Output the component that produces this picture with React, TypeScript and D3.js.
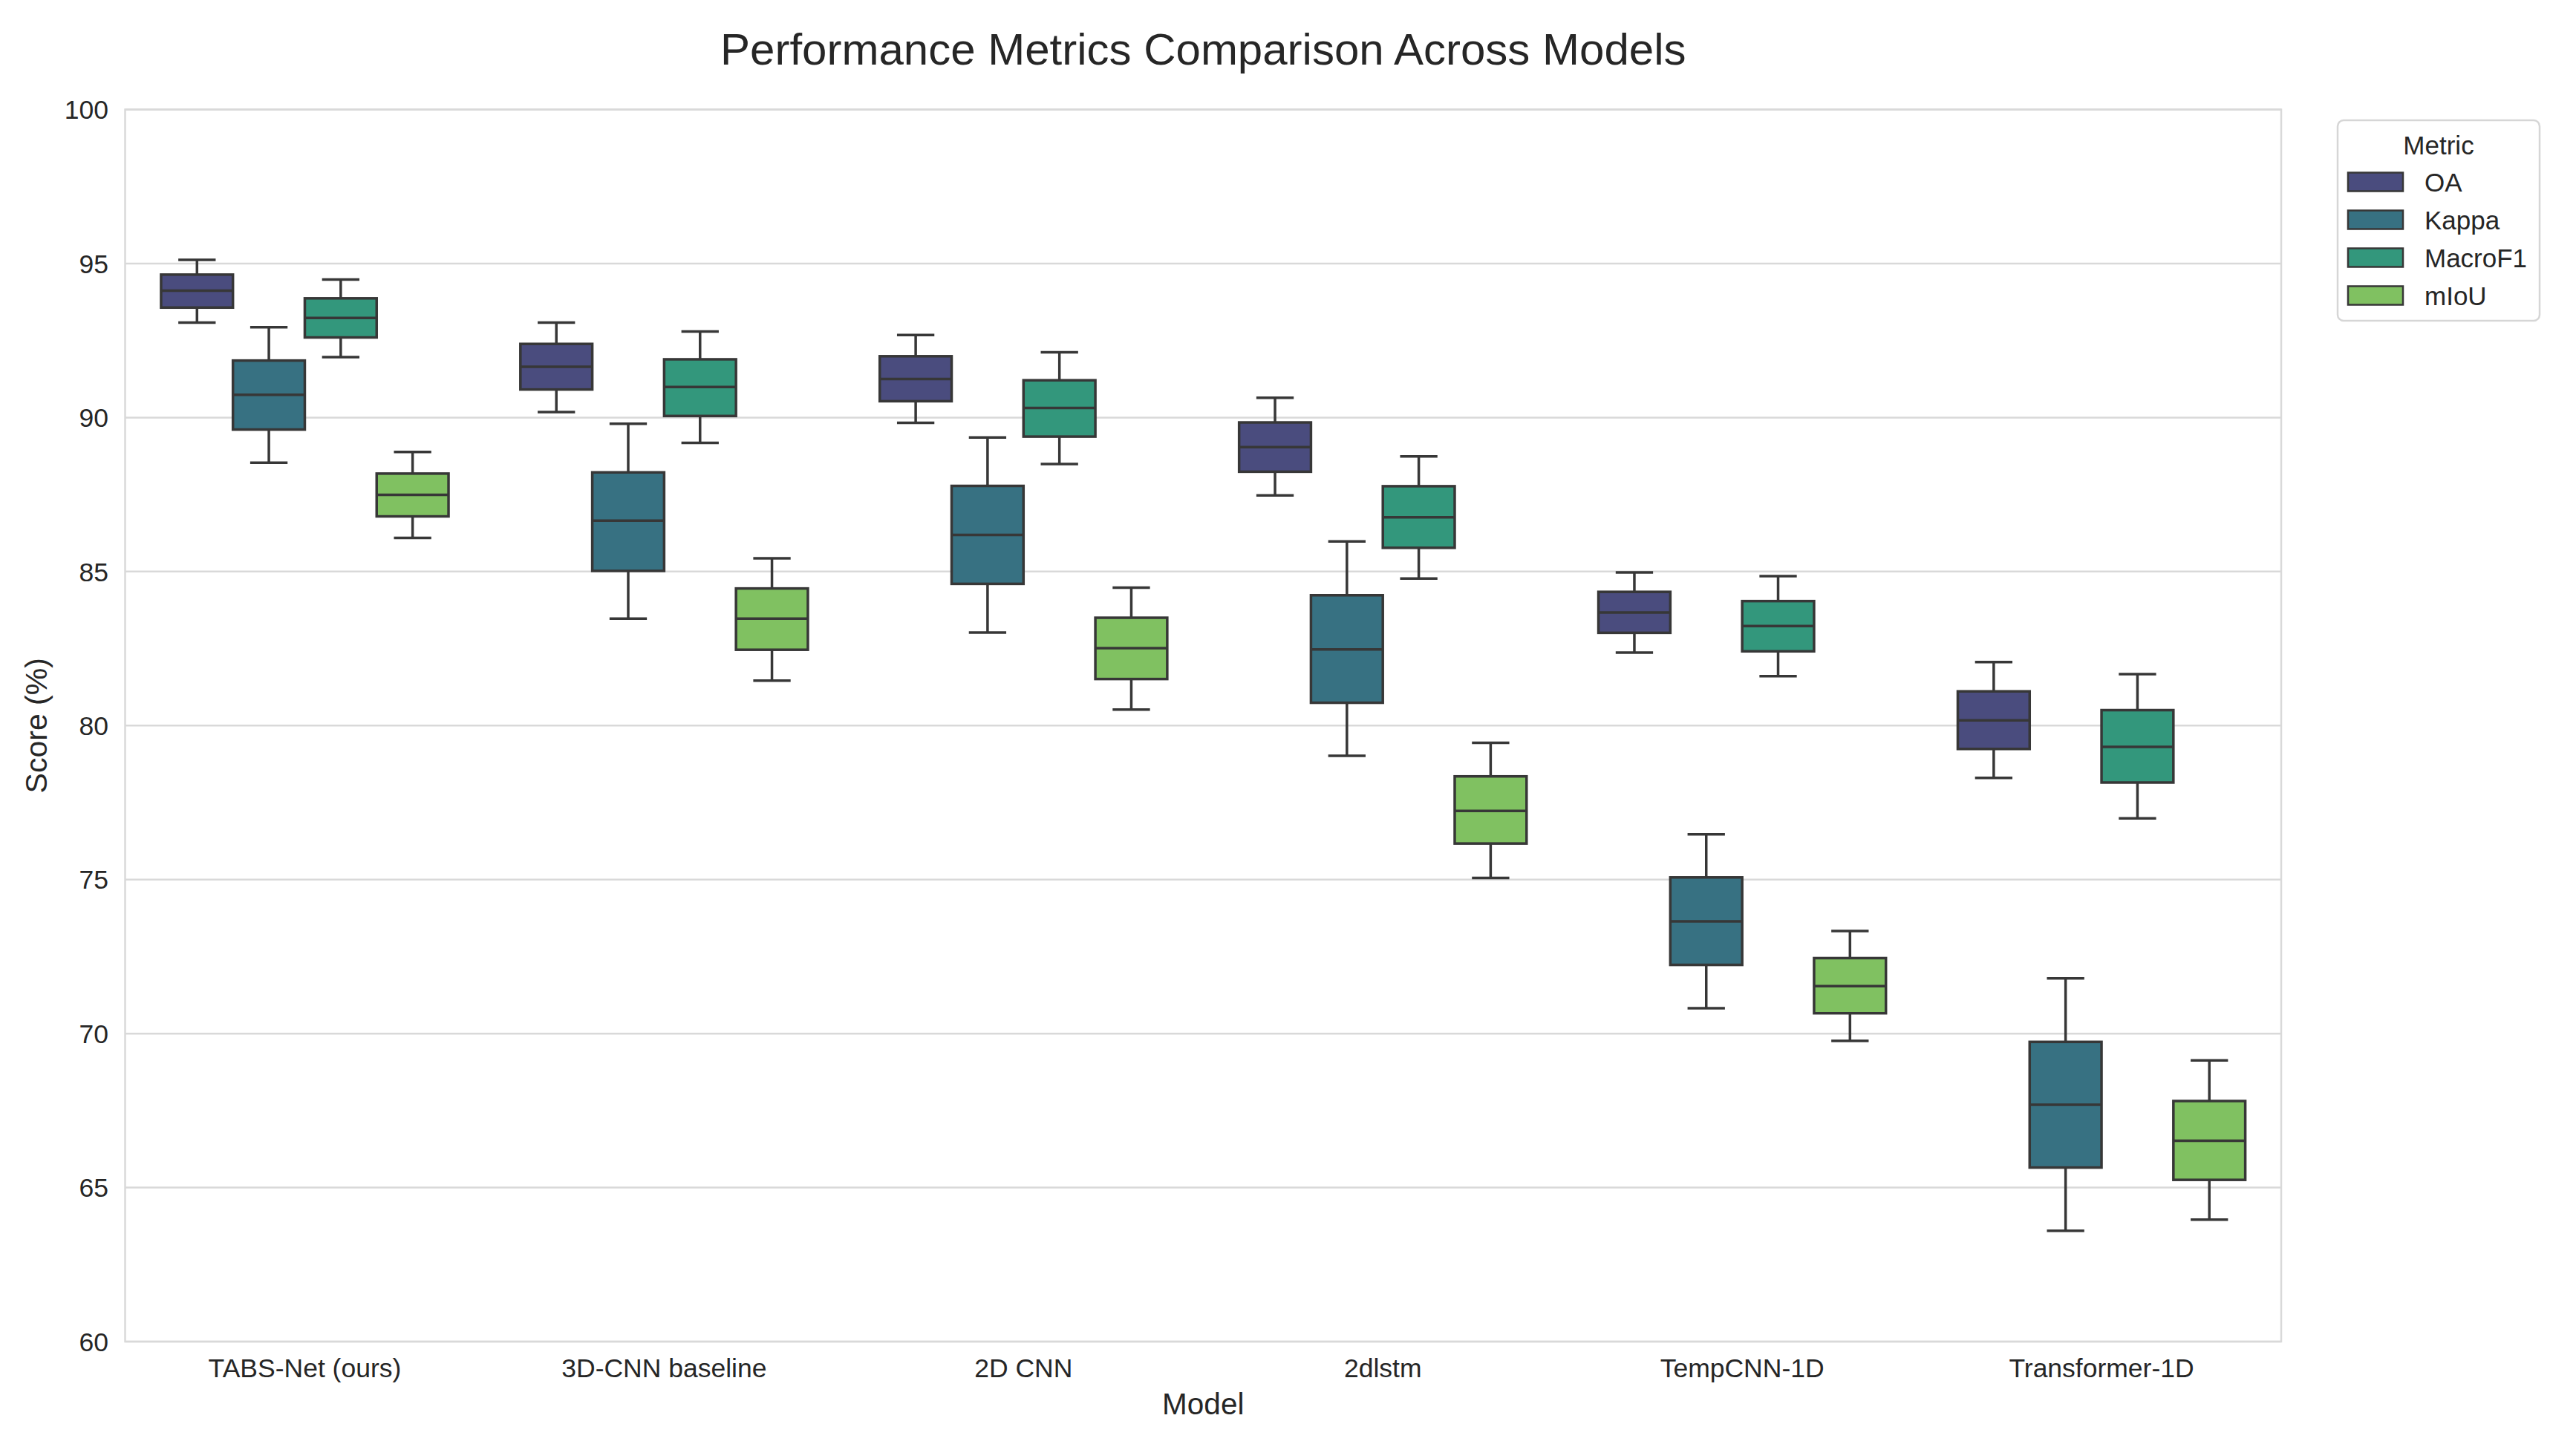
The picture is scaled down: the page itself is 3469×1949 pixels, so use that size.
import * as d3 from 'd3';

// model names along the x axis
const models = ['TABS-Net (ours)', '3D-CNN baseline', '2D CNN', '2dlstm', 'TempCNN-1D', 'Transformer-1D'];
const metrics = ['OA', 'Kappa', 'MacroF1', 'mIoU'];
const yTicks = [60, 65, 70, 75, 80, 85, 90, 95, 100];

// five-number summaries per model: [lower whisker, Q1, median, Q3, upper whisker]
const oaStats = [
  [93.08, 93.57, 94.12, 94.64, 95.12],
  [90.18, 90.91, 91.65, 92.39, 93.08],
  [89.83, 90.53, 91.25, 91.99, 92.68],
  [87.47, 88.24, 89.04, 89.84, 90.64],
  [82.37, 83.01, 83.67, 84.34, 84.97],
  [78.30, 79.24, 80.17, 81.11, 82.06],
];
const kappaStats = [
  [88.53, 89.61, 90.74, 91.85, 92.93],
  [83.47, 85.02, 86.65, 88.22, 89.80],
  [83.02, 84.60, 86.19, 87.78, 89.35],
  [79.02, 80.74, 82.47, 84.23, 85.98],
  [70.82, 72.23, 73.64, 75.07, 76.47],
  [63.60, 65.65, 67.69, 69.73, 71.79],
];
const macroF1Stats = [
  [91.96, 92.60, 93.23, 93.87, 94.48],
  [89.18, 90.05, 90.99, 91.89, 92.79],
  [88.49, 89.38, 90.31, 91.21, 92.12],
  [84.77, 85.77, 86.76, 87.77, 88.74],
  [81.60, 82.41, 83.23, 84.04, 84.85],
  [76.99, 78.15, 79.31, 80.50, 81.67],
];
const mIoUStats = [
  [86.09, 86.79, 87.49, 88.18, 88.88],
  [81.46, 82.46, 83.47, 84.45, 85.43],
  [80.52, 81.51, 82.51, 83.50, 84.48],
  [75.05, 76.17, 77.23, 78.35, 79.44],
  [69.76, 70.66, 71.54, 72.45, 73.33],
  [63.96, 65.25, 66.52, 67.81, 69.13],
];
const metricColors = ['#4a4c7e', '#377182', '#33977c', '#80c161'];

const W = 3469;
const H = 1949;
const left = 168.5;
const right = 3072;
const top = 147.5;
const bottom = 1807;
const font = '"Liberation Sans", Arial, Helvetica, sans-serif';
const textColor = '#262626';
const lineColor = '#373737';
const gridColor = '#d9d9d9';

export default function App() {
  const statsByMetric = [oaStats, kappaStats, macroF1Stats, mIoUStats];

  const x = d3.scaleBand<string>().domain(models).range([left, right]).paddingInner(0).paddingOuter(0);
  const inner = d3.scaleBand<string>().domain(metrics).range([x.bandwidth() * 0.1, x.bandwidth() * 0.9]);
  const y = d3.scaleLinear().domain([60, 100]).range([bottom, top]);
  const color = d3.scaleOrdinal<string, string>().domain(metrics).range(metricColors);

  const bw = inner.bandwidth();
  const capW = bw * 0.52;
  const lw = 3.5;

  const legendX = 3148;
  const legendY = 162;
  const rowY = [245, 296, 347, 398];

  return (
    <svg width={W} height={H} style={{ position: 'absolute', left: 0, top: 0, background: '#fff' }} fontFamily={font}>
      <rect x={0} y={0} width={W} height={H} fill="#fff" />

      {/* grid */}
      {yTicks.map(t => (
        <line key={t} x1={left} x2={right} y1={y(t)} y2={y(t)} stroke={gridColor} strokeWidth={2.5} />
      ))}
      <rect x={left} y={top} width={right - left} height={bottom - top} fill="none" stroke={gridColor} strokeWidth={2.5} />

      {/* y ticks */}
      {yTicks.map(t => (
        <text key={t} x={146} y={y(t)} dy="0.36em" textAnchor="end" fontSize={35.5} fill={textColor}>{t}</text>
      ))}

      {/* x ticks */}
      {models.map(m => (
        <text key={m} x={x(m)! + x.bandwidth() / 2} y={1855} textAnchor="middle" fontSize={35.5} fill={textColor}>{m}</text>
      ))}

      {/* boxes */}
      {metrics.map((metric, mi) =>
        models.map((m, i) => {
          const [lo, q1, med, q3, hi] = statsByMetric[mi][i];
          const x0 = x(m)! + inner(metric)!;
          const cx = x0 + bw / 2;
          return (
            <g key={metric + m}>
              <line x1={cx} x2={cx} y1={y(hi)} y2={y(q3)} stroke={lineColor} strokeWidth={lw} />
              <line x1={cx} x2={cx} y1={y(q1)} y2={y(lo)} stroke={lineColor} strokeWidth={lw} />
              <line x1={cx - capW / 2} x2={cx + capW / 2} y1={y(hi)} y2={y(hi)} stroke={lineColor} strokeWidth={lw} />
              <line x1={cx - capW / 2} x2={cx + capW / 2} y1={y(lo)} y2={y(lo)} stroke={lineColor} strokeWidth={lw} />
              <rect x={x0} y={y(q3)} width={bw} height={y(q1) - y(q3)} fill={color(metric)} stroke={lineColor} strokeWidth={lw} />
              <line x1={x0} x2={x0 + bw} y1={y(med)} y2={y(med)} stroke={lineColor} strokeWidth={lw} />
            </g>
          );
        })
      )}

      {/* axis labels and title */}
      <text x={(left + right) / 2} y={1905} textAnchor="middle" fontSize={40.5} fill={textColor}>Model</text>
      <text transform={`translate(63,${(top + bottom) / 2}) rotate(-90)`} textAnchor="middle" fontSize={41} fill={textColor}>Score (%)</text>
      <text x={(left + right) / 2} y={87} textAnchor="middle" fontSize={60} fill={textColor}>Performance Metrics Comparison Across Models</text>

      {/* legend */}
      <rect x={legendX} y={legendY} width={272} height={270} rx={8} fill="#fff" stroke="#d6d6d6" strokeWidth={2.5} />
      <text x={legendX + 136} y={208} textAnchor="middle" fontSize={35} fill={textColor}>Metric</text>
      {metrics.map((metric, i) => (
        <g key={metric}>
          <rect x={3162} y={rowY[i] - 12.5} width={74} height={25} fill={color(metric)} stroke={lineColor} strokeWidth={2.5} />
          <text x={3265} y={rowY[i]} dy="0.36em" fontSize={35} fill={textColor}>{metric}</text>
        </g>
      ))}
    </svg>
  );
}
